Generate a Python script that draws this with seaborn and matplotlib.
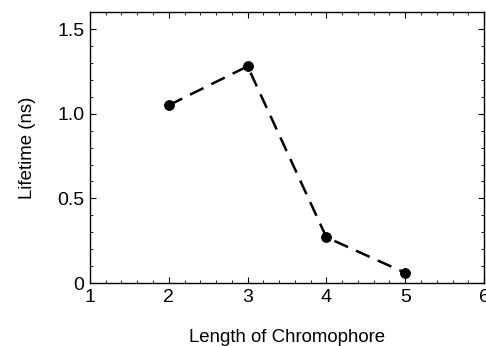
import matplotlib
matplotlib.use("Agg")
import matplotlib.pyplot as plt
import seaborn as sns
import pandas as pd
from matplotlib.ticker import MultipleLocator, FixedLocator, FixedFormatter

length = [2, 3, 4, 5]
lifetime = [1.05, 1.28, 0.27, 0.06]
xticks = [1, 2, 3, 4, 5, 6]
yticks = [0, 0.5, 1.0, 1.5]
ytick_labels = ["0", "0.5", "1.0", "1.5"]

sns.set_theme(style="ticks")
plt.rcParams['font.family'] = ['Liberation Sans', 'DejaVu Sans']

df = pd.DataFrame({"Length": length, "Lifetime": lifetime})

fig = plt.figure(figsize=(4.86, 3.46), dpi=100)
ax = fig.add_axes([0.185, 0.182, 0.811, 0.783])

sns.lineplot(data=df, x="Length", y="Lifetime", ax=ax, color="black",
             linewidth=1.8, marker="o", markersize=7, markeredgecolor="black",
             dashes=False)
for line in ax.lines:
    line.set_linestyle((0, (6, 3.5)))

ax.set_xlim(1, 6)
ax.set_ylim(0, 1.6)
ax.xaxis.set_major_locator(FixedLocator(xticks))
ax.yaxis.set_major_locator(FixedLocator(yticks))
ax.yaxis.set_major_formatter(FixedFormatter(ytick_labels))
ax.xaxis.set_minor_locator(MultipleLocator(0.2))
ax.yaxis.set_minor_locator(MultipleLocator(0.1))
ax.tick_params(which="both", direction="in", top=True, right=True, color="black")
ax.tick_params(which="major", length=4, width=0.8, labelsize=14, pad=4, labelcolor="black")
ax.tick_params(which="minor", length=2, width=0.6)
for s in ax.spines.values():
    s.set_visible(True)
    s.set_color("black")
    s.set_linewidth(1.0)

ax.set_xlabel("Length of Chromophore", fontsize=13.4, labelpad=17, color="black")
ax.set_ylabel("Lifetime (ns)", fontsize=13.4, labelpad=15, color="black")

fig.savefig("out.png", dpi=100)
